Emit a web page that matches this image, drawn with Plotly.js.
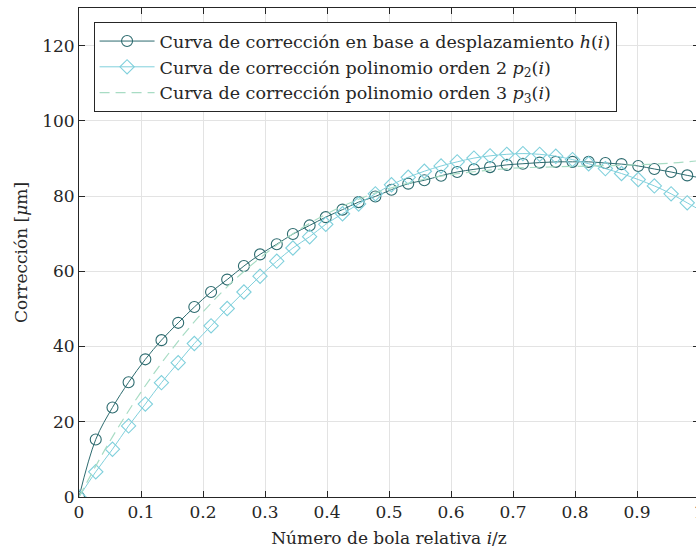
<!DOCTYPE html>
<html>
<head>
<meta charset="utf-8">
<script src="https://cdn.plot.ly/plotly-3.0.1.min.js"></script>
<style>
html,body{margin:0;padding:0;overflow:hidden;background:#fff;width:696px;height:553px;}
#chart{width:712px;height:553px;}
</style>
</head>
<body>
<div id="chart"></div>
<script>
// relative ball number i/z
var xRel = [0, 0.027, 0.054, 0.080, 0.107, 0.133, 0.160, 0.186, 0.213, 0.239, 0.266, 0.292, 0.319, 0.345, 0.372, 0.398, 0.425, 0.451, 0.478, 0.504, 0.531, 0.557, 0.584, 0.610, 0.637, 0.663, 0.690, 0.716, 0.743, 0.769, 0.796, 0.822, 0.849, 0.875, 0.902, 0.928, 0.955, 0.981, 1.008];
// correction from displacement h(i) [um]
var hVals = [0, 15.3, 23.8, 30.5, 36.6, 41.7, 46.3, 50.5, 54.5, 57.8, 61.4, 64.5, 67.2, 69.9, 72.2, 74.4, 76.4, 78.4, 79.9, 81.7, 83.3, 84.2, 85.4, 86.4, 87.1, 87.7, 88.3, 88.6, 88.9, 89.1, 89.1, 89.1, 88.8, 88.5, 88.0, 87.2, 86.4, 85.5, 84.7];
// order-2 polynomial p2(i) [um]
var p2Vals = [0, 6.7, 12.7, 18.9, 24.7, 30.4, 35.7, 40.8, 45.5, 50.1, 54.5, 58.7, 62.7, 66.2, 69.2, 72.5, 75.3, 77.9, 80.6, 83.0, 85.0, 86.6, 88.0, 89.1, 90.1, 90.7, 91.1, 91.3, 91.1, 90.6, 89.7, 88.6, 87.3, 86.0, 84.4, 82.7, 80.6, 78.2, 75.7];
// order-3 polynomial p3(i) [um]
var xP3 = [0, 0.05, 0.10, 0.15, 0.20, 0.25, 0.30, 0.35, 0.40, 0.45, 0.50, 0.55, 0.60, 0.65, 0.70, 0.75, 0.80, 0.85, 0.90, 0.95, 1.00];
var p3Vals = [0, 14.9, 27.9, 39.3, 49.2, 57.6, 64.6, 70.5, 75.3, 79.1, 82.0, 84.2, 85.7, 86.7, 87.4, 87.7, 87.9, 88.1, 88.3, 88.7, 89.4];

var xTicks = [0, 0.1, 0.2, 0.3, 0.4, 0.5, 0.6, 0.7, 0.8, 0.9, 1];
var yTicks = [0, 20, 40, 60, 80, 100, 120];

var FONT = '"DejaVu Serif", "Liberation Serif", serif';
var FS = 17;
var LFS = 17.5;
var axisCol = '#262626';

var traces = [
  {x: xRel, y: hVals, type: 'scatter', mode: 'lines+markers',
   name: 'Curva de corrección en base a desplazamiento <i>h</i>(<i>i</i>)',
   line: {color: '#2d6b6f', width: 1, shape: 'spline', smoothing: 1},
   marker: {symbol: 'circle-open', size: 11, color: '#2d6b6f', line: {width: 1.1, color: '#2d6b6f'}}},
  {x: xRel, y: p2Vals, type: 'scatter', mode: 'lines+markers',
   name: 'Curva de corrección polinomio orden 2 <i>p</i><sub>2</sub>(<i>i</i>)',
   line: {color: '#80d0dc', width: 1, shape: 'spline', smoothing: 1},
   marker: {symbol: 'diamond-open', size: 11, color: '#80d0dc', line: {width: 1.1, color: '#80d0dc'}}},
  {x: xP3, y: p3Vals, type: 'scatter', mode: 'lines',
   name: 'Curva de corrección polinomio orden 3 <i>p</i><sub>3</sub>(<i>i</i>)',
   line: {color: '#a8dcc4', width: 1.2, dash: '10px,6px', shape: 'spline', smoothing: 1}}
];

var layout = {
  width: 712, height: 553,
  margin: {l: 79, r: 13, t: 8, b: 56},
  paper_bgcolor: '#ffffff', plot_bgcolor: '#ffffff',
  font: {family: FONT, size: FS, color: axisCol},
  showlegend: true,
  legend: {
    x: 0.0235, y: 0.971, xanchor: 'left', yanchor: 'top',
    bgcolor: '#ffffff', bordercolor: axisCol, borderwidth: 1,
    font: {family: FONT, size: LFS, color: axisCol},
    itemwidth: 55, tracegroupgap: 0
  },
  xaxis: {
    range: [0, 1], tickvals: xTicks, ticktext: xTicks.map(String),
    ticks: 'inside', ticklen: 6, tickcolor: axisCol, tickwidth: 1,
    showline: true, linecolor: axisCol, linewidth: 1, mirror: 'ticks',
    showgrid: true, gridcolor: '#e3e3e3', gridwidth: 1, zeroline: false,
    tickfont: {family: FONT, size: FS, color: axisCol},
    title: {text: 'Número de bola relativa <i>i</i>/z', font: {family: FONT, size: FS, color: axisCol}, standoff: 10}
  },
  yaxis: {
    range: [0, 130], tickvals: yTicks, ticktext: yTicks.map(String),
    ticks: 'inside', ticklen: 6, tickcolor: axisCol, tickwidth: 1,
    showline: true, linecolor: axisCol, linewidth: 1, mirror: 'ticks',
    showgrid: true, gridcolor: '#e3e3e3', gridwidth: 1, zeroline: false,
    tickfont: {family: FONT, size: FS, color: axisCol},
    title: {text: 'Corrección [<i>μ</i>m]', font: {family: FONT, size: FS, color: axisCol}, standoff: 10}
  }
};

Plotly.newPlot('chart', traces, layout, {displayModeBar: false, staticPlot: true});
</script>
</body>
</html>
